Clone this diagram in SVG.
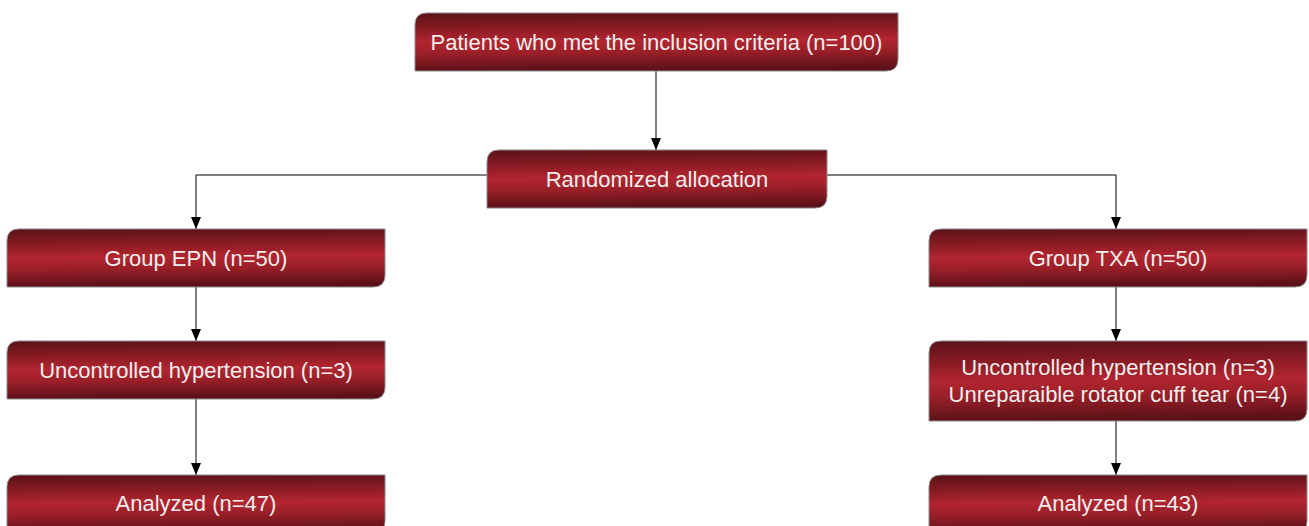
<svg xmlns="http://www.w3.org/2000/svg" width="1309" height="526" viewBox="0 0 1309 526">
<defs>
<linearGradient id="g" x1="0" y1="0" x2="0.06" y2="1">
<stop offset="0" stop-color="#5a1219"/>
<stop offset="0.3" stop-color="#8e1c25"/>
<stop offset="0.5" stop-color="#b2252f"/>
<stop offset="0.7" stop-color="#9a1f28"/>
<stop offset="1" stop-color="#5c1118"/>
</linearGradient>
<marker id="a" markerWidth="12" markerHeight="10" refX="12" refY="5" orient="auto" markerUnits="userSpaceOnUse" viewBox="0 0 12 10">
<path d="M0,0 L12,5 L0,10 Z" fill="#000"/>
</marker>
</defs>
<style>
.b{fill:url(#g);stroke:#8a8a8a;stroke-width:1}
.t{font-family:"Liberation Sans",Arial,sans-serif;font-size:22px;fill:#f2eeee;text-anchor:middle}
.c{fill:none;stroke:#000;stroke-width:1}
</style>
<g id="connectors">
<path class="c" d="M656,71 V150" marker-end="url(#a)"/>
<path class="c" d="M487,175 H196 V229" marker-end="url(#a)"/>
<path class="c" d="M827,175 H1116 V229" marker-end="url(#a)"/>
<path class="c" d="M196,287 V341" marker-end="url(#a)"/>
<path class="c" d="M196,399 V475" marker-end="url(#a)"/>
<path class="c" d="M1116,287 V341" marker-end="url(#a)"/>
<path class="c" d="M1116,421 V475" marker-end="url(#a)"/>
</g>
<g id="n1">
<path class="b" d="M427,13 H898 V59 Q898,71 886,71 H415 V25 Q415,13 427,13 Z"/>
<text class="t" x="656.5" y="50">Patients who met the inclusion criteria (n=100)</text>
</g>
<g id="n2">
<path class="b" d="M499,150 H827 V196 Q827,208 815,208 H487 V162 Q487,150 499,150 Z"/>
<text class="t" x="657" y="187">Randomized allocation</text>
</g>
<g id="n3">
<path class="b" d="M19,229 H385 V275 Q385,287 373,287 H7 V241 Q7,229 19,229 Z"/>
<text class="t" x="196" y="266">Group EPN (n=50)</text>
</g>
<g id="n4">
<path class="b" d="M941,229 H1307 V275 Q1307,287 1295,287 H929 V241 Q929,229 941,229 Z"/>
<text class="t" x="1118" y="266">Group TXA (n=50)</text>
</g>
<g id="n5">
<path class="b" d="M19,341 H385 V387 Q385,399 373,399 H7 V353 Q7,341 19,341 Z"/>
<text class="t" x="196" y="378">Uncontrolled hypertension (n=3)</text>
</g>
<g id="n6">
<path class="b" d="M941,341 H1307 V409 Q1307,421 1295,421 H929 V353 Q929,341 941,341 Z"/>
<text class="t" x="1118" y="375">Uncontrolled hypertension (n=3)</text>
<text class="t" x="1118" y="402">Unreparaible rotator cuff tear (n=4)</text>
</g>
<g id="n7">
<path class="b" d="M19,475 H385 V521 Q385,533 373,533 H7 V487 Q7,475 19,475 Z"/>
<text class="t" x="196" y="511">Analyzed (n=47)</text>
</g>
<g id="n8">
<path class="b" d="M941,475 H1307 V521 Q1307,533 1295,533 H929 V487 Q929,475 941,475 Z"/>
<text class="t" x="1118" y="511">Analyzed (n=43)</text>
</g>
</svg>
